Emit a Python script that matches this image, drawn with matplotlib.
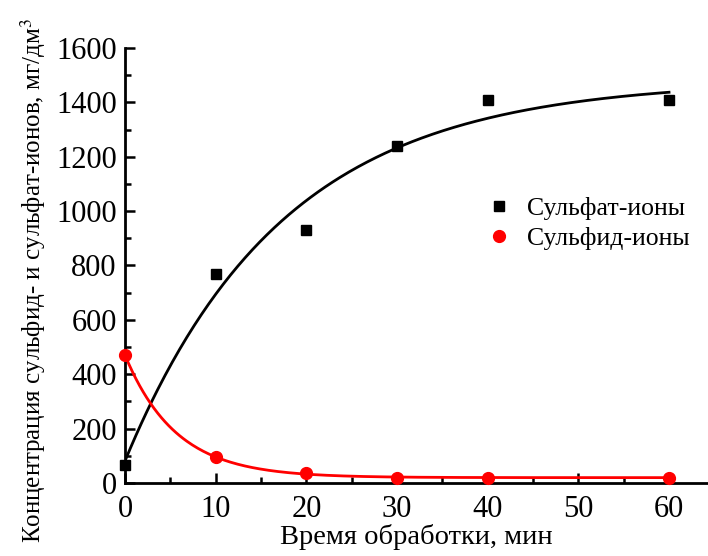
import numpy as np
import matplotlib
matplotlib.use("Agg")
from matplotlib import pyplot as plt
from matplotlib.ticker import MultipleLocator

# data
time_min = [0, 10, 20, 30, 40, 60]
sulfate = [66, 770, 930, 1240, 1410, 1410]
sulfide = [470, 95, 35, 20, 20, 20]

label_sulfate = "Сульфат-ионы"
label_sulfide = "Сульфид-ионы"
xlabel = "Время обработки, мин"
ylabel = "Концентрация сульфид- и сульфат-ионов, мг/дм$^3$"


def fit_exp(x, y):
    # y = a + b*exp(-x/t), grid over t, linear least squares for a, b
    x = np.asarray(x, float)
    y = np.asarray(y, float)
    best = None
    for t in np.linspace(1, 80, 2000):
        M = np.column_stack([np.ones_like(x), np.exp(-x / t)])
        coef, res, rk, sv = np.linalg.lstsq(M, y, rcond=None)
        err = np.sum((M @ coef - y) ** 2)
        if best is None or err < best[0]:
            best = (err, coef, t)
    return best[1], best[2]


plt.rcParams['font.family'] = ['Liberation Serif', 'DejaVu Serif']
plt.rcParams['mathtext.fontset'] = 'stix'

fig = plt.figure(figsize=(7.08, 5.56), dpi=100)
ax = fig.add_axes([0.1766, 0.1313, 0.8234, 0.7824])

xx = np.linspace(0, 60, 300)
c, t = fit_exp(time_min, sulfate)
ax.plot(xx, c[0] + c[1] * np.exp(-xx / t), color='black', lw=2, zorder=2)
c, t = fit_exp(time_min, sulfide)
ax.plot(xx, c[0] + c[1] * np.exp(-xx / t), color='red', lw=2, zorder=2)

ax.plot(time_min, sulfate, 's', color='black', ms=7.5, label=label_sulfate, clip_on=False, zorder=3)
ax.plot(time_min, sulfide, 'o', color='red', ms=8.5, label=label_sulfide, clip_on=False, zorder=3)

ax.set_xlim(0, 64.3)
ax.set_ylim(0, 1600)
ax.xaxis.set_major_locator(MultipleLocator(10))
ax.xaxis.set_minor_locator(MultipleLocator(5))
ax.yaxis.set_major_locator(MultipleLocator(200))
ax.yaxis.set_minor_locator(MultipleLocator(100))

for s in ['top', 'right']:
    ax.spines[s].set_visible(False)
for s in ['left', 'bottom']:
    ax.spines[s].set_linewidth(2)

ax.tick_params(which='major', direction='in', length=7, width=1.8, labelsize=22, pad=6)
ax.tick_params(axis='x', which='major', pad=9)
ax.tick_params(which='minor', direction='in', length=4.5, width=1.8)

ax.set_xlabel(xlabel, fontsize=20.5, labelpad=0)
ax.set_ylabel(ylabel, fontsize=18, va='center')
ax.yaxis.set_label_coords(-0.158, 0.465)

ax.legend(loc='upper left', bbox_to_anchor=(0.58, 0.71), frameon=False, fontsize=18.5,
          handletextpad=0.6, handlelength=1.0, labelspacing=0.25)

fig.savefig("out.png", dpi=100)
